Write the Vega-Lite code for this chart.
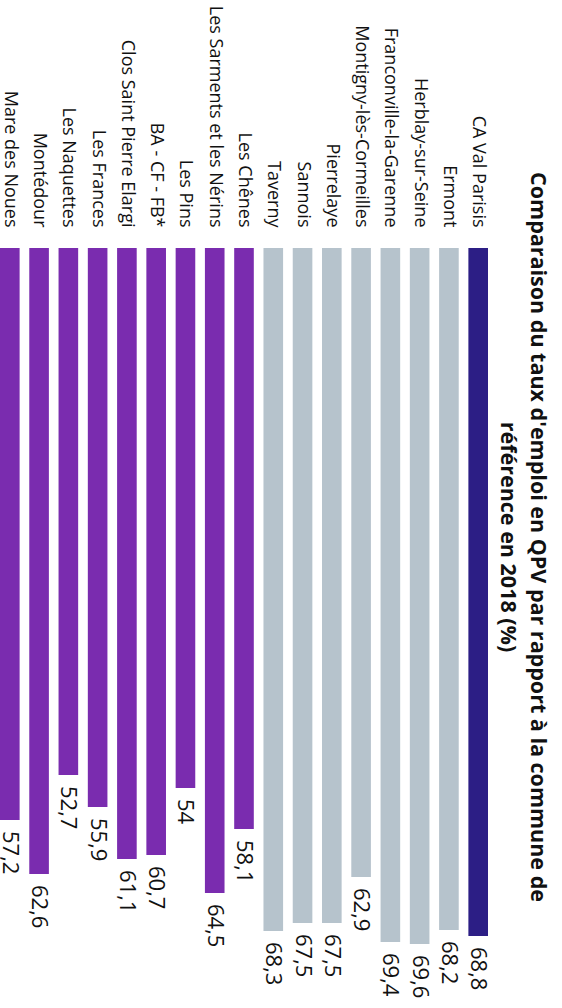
{
  "$schema": "https://vega.github.io/schema/vega-lite/v6.json",
  "autosize": "none",
  "padding": {"left": 0, "top": 248, "right": 74, "bottom": 10},
  "width": 488,
  "height": 750,
  "background": "white",
  "title": {
    "text": ["Comparaison du taux d'emploi en QPV par rapport à la commune de", "référence en 2018 (%)"],
    "orient": "right",
    "anchor": "middle",
    "font": "Open Sans",
    "fontSize": 21.5,
    "fontWeight": "bold",
    "color": "#111111",
    "lineHeight": 30,
    "offset": 7,
    "dx": -86
  },
  "data": {
    "values": [
      {"name": "CA Val Parisis", "value": 68.8, "group": "CA"},
      {"name": "Ermont", "value": 68.2, "group": "Commune"},
      {"name": "Herblay-sur-Seine", "value": 69.6, "group": "Commune"},
      {"name": "Franconville-la-Garenne", "value": 69.4, "group": "Commune"},
      {"name": "Montigny-lès-Cormeilles", "value": 62.9, "group": "Commune"},
      {"name": "Pierrelaye", "value": 67.5, "group": "Commune"},
      {"name": "Sannois", "value": 67.5, "group": "Commune"},
      {"name": "Taverny", "value": 68.3, "group": "Commune"},
      {"name": "Les Chênes", "value": 58.1, "group": "QPV"},
      {"name": "Les Sarments et les Nérins", "value": 64.5, "group": "QPV"},
      {"name": "Les Pins", "value": 54, "group": "QPV"},
      {"name": "BA - CF - FB*", "value": 60.7, "group": "QPV"},
      {"name": "Clos Saint Pierre Elargi", "value": 61.1, "group": "QPV"},
      {"name": "Les Frances", "value": 55.9, "group": "QPV"},
      {"name": "Les Naquettes", "value": 52.7, "group": "QPV"},
      {"name": "Montédour", "value": 62.6, "group": "QPV"},
      {"name": "Mare des Noues", "value": 57.2, "group": "QPV"}
    ]
  },
  "encoding": {
    "x": {
      "field": "name",
      "type": "nominal",
      "sort": ["Mare des Noues", "Montédour", "Les Naquettes", "Les Frances", "Clos Saint Pierre Elargi", "BA - CF - FB*", "Les Pins", "Les Sarments et les Nérins", "Les Chênes", "Taverny", "Sannois", "Pierrelaye", "Montigny-lès-Cormeilles", "Franconville-la-Garenne", "Herblay-sur-Seine", "Ermont", "CA Val Parisis"],
      "scale": {"paddingInner": 0.33, "paddingOuter": 0},
      "axis": {
        "orient": "top",
        "title": null,
        "domain": false,
        "ticks": false,
        "labelAngle": 90,
        "labelAlign": "right",
        "labelBaseline": "middle",
        "labelPadding": 21,
        "labelFont": "Open Sans",
        "labelFontSize": 18,
        "labelColor": "#111111",
        "labelLimit": 400
      }
    },
    "y": {
      "field": "value",
      "type": "quantitative",
      "scale": {"domain": [0, 75], "reverse": true, "nice": false, "zero": true},
      "axis": null
    }
  },
  "layer": [
    {
      "mark": {"type": "bar"},
      "encoding": {
        "color": {
          "field": "group",
          "type": "nominal",
          "scale": {"domain": ["CA", "Commune", "QPV"], "range": ["#2c1e85", "#b6c3cc", "#7a2caf"]},
          "legend": null
        }
      }
    },
    {
      "mark": {"type": "text", "angle": 90, "align": "left", "baseline": "middle", "dx": 11, "font": "Open Sans", "fontSize": 22, "color": "#111111"},
      "encoding": {
        "text": {"field": "value", "type": "quantitative", "format": "~g"}
      }
    }
  ],
  "config": {
    "view": {"stroke": null},
    "locale": {"number": {"decimal": ",", "thousands": " ", "grouping": [3], "currency": ["", " €"]}}
  }
}
